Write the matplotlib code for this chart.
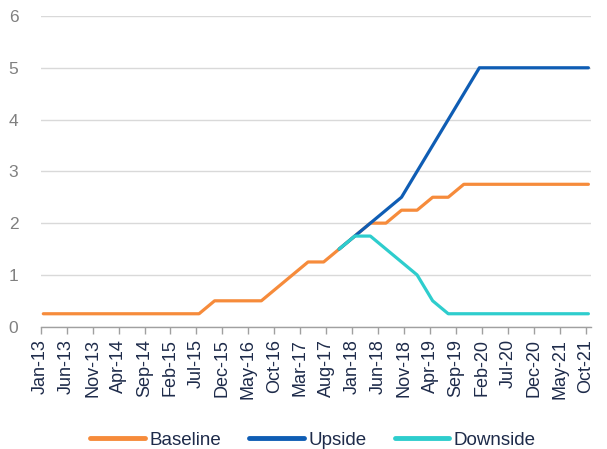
import matplotlib
matplotlib.use("Agg")
import matplotlib.pyplot as plt
from matplotlib.ticker import FixedLocator, NullLocator

plt.rcParams['font.family'] = ['Liberation Sans', 'DejaVu Sans']

# Quarterly observation labels (Jan-13 .. Oct-21)
quarters = ["Jan-13", "Apr-13", "Jul-13", "Oct-13", "Jan-14", "Apr-14", "Jul-14", "Oct-14",
            "Jan-15", "Apr-15", "Jul-15", "Oct-15", "Jan-16", "Apr-16", "Jul-16", "Oct-16",
            "Jan-17", "Apr-17", "Jul-17", "Oct-17", "Jan-18", "Apr-18", "Jul-18", "Oct-18",
            "Jan-19", "Apr-19", "Jul-19", "Oct-19", "Jan-20", "Apr-20", "Jul-20", "Oct-20",
            "Jan-21", "Apr-21", "Jul-21", "Oct-21"]

baseline = [0.25, 0.25, 0.25, 0.25, 0.25, 0.25, 0.25, 0.25, 0.25, 0.25, 0.25, 0.5,
            0.5, 0.5, 0.5, 0.75, 1.0, 1.25, 1.25, 1.5, 1.75, 2.0, 2.0, 2.25,
            2.25, 2.5, 2.5, 2.75, 2.75, 2.75, 2.75, 2.75, 2.75, 2.75, 2.75, 2.75]

# Scenarios start at Oct-17
scenario_start = 19
upside = [1.5, 1.75, 2.0, 2.25, 2.5, 3.0, 3.5, 4.0, 4.5, 5.0,
          5.0, 5.0, 5.0, 5.0, 5.0, 5.0, 5.0]
downside = [1.5, 1.75, 1.75, 1.5, 1.25, 1.0, 0.5, 0.25, 0.25, 0.25,
            0.25, 0.25, 0.25, 0.25, 0.25, 0.25, 0.25]

# Axis tick labels (every 5 months)
tick_labels = ["Jan-13", "Jun-13", "Nov-13", "Apr-14", "Sep-14", "Feb-15", "Jul-15", "Dec-15",
               "May-16", "Oct-16", "Mar-17", "Aug-17", "Jan-18", "Jun-18", "Nov-18", "Apr-19",
               "Sep-19", "Feb-20", "Jul-20", "Dec-20", "May-21", "Oct-21"]
yticks = [0, 1, 2, 3, 4, 5, 6]

months = ["Jan", "Feb", "Mar", "Apr", "May", "Jun", "Jul", "Aug", "Sep", "Oct", "Nov", "Dec"]


def month_index(lbl):
    m, y = lbl.split("-")
    return (int(y) - 13) * 12 + months.index(m)


# points centred in their month slot (date axis)
xq = [month_index(q) + 0.5 for q in quarters]
xs = xq[scenario_start:]
xt = [month_index(t) for t in tick_labels]

c_base = '#F68B3B'
c_up = '#0F5DB4'
c_down = '#2ECDCD'
txt = '#1E2B4A'

fig = plt.figure(figsize=(6.07, 4.49), dpi=100)
ax = fig.add_axes([40.7 / 607, 1 - 326.7 / 449, (591 - 40.7) / 607, (326.7 - 16) / 449])

lw = 2.3
ax.plot(xq, baseline, color=c_base, lw=lw, solid_capstyle='round', solid_joinstyle='round', label='Baseline', zorder=3)
ax.plot(xs, upside, color=c_up, lw=lw, solid_capstyle='round', solid_joinstyle='round', label='Upside', zorder=4)
ax.plot(xs, downside, color=c_down, lw=lw, solid_capstyle='round', solid_joinstyle='round', label='Downside', zorder=5)

ax.set_xlim(0, 106)
ax.set_ylim(0, 6)

ax.set_yticks(yticks)
ax.set_yticklabels([str(v) for v in yticks])
ax.tick_params(axis='y', length=0, pad=16, labelsize=12.5, labelcolor='#808080')
ax.yaxis.grid(True, color='#D9D9D9', lw=1.0)
ax.set_axisbelow(True)

ax.xaxis.set_major_locator(FixedLocator(xt))
ax.set_xticklabels(tick_labels, rotation=90)
ax.xaxis.set_minor_locator(NullLocator())
ax.tick_params(axis='x', length=5, width=1, color='#A0A0A0', pad=4, labelsize=13, labelcolor=txt)

for s in ['top', 'right', 'left']:
    ax.spines[s].set_visible(False)
ax.spines['bottom'].set_color('#A0A0A0')
ax.spines['bottom'].set_linewidth(1.0)

leg = fig.legend(loc='center', bbox_to_anchor=(313 / 607, 1 - 440 / 449), ncol=3, frameon=False,
                 fontsize=13.5, handlelength=2.9, handletextpad=0.25, columnspacing=1.5)
for t in leg.get_texts():
    t.set_color(txt)
for h in leg.get_lines():
    h.set_linewidth(3.5)

fig.savefig('out.png', dpi=100)
